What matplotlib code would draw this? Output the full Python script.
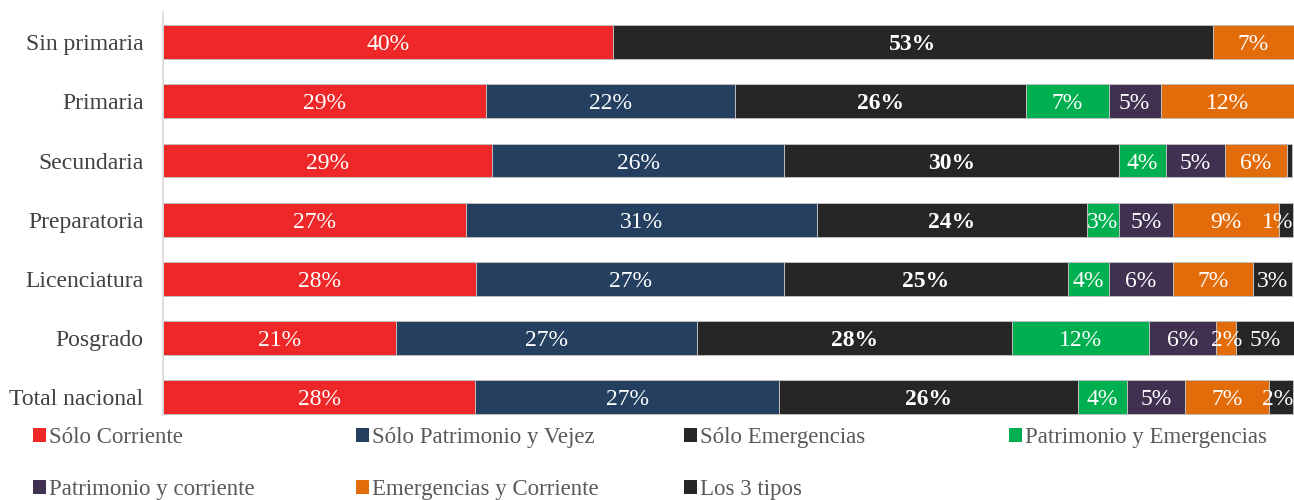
import matplotlib

matplotlib.use("Agg")
import matplotlib.pyplot as plt
import numpy as np
from matplotlib.patches import Patch

plt.rcParams["font.family"] = ["Liberation Serif", "DejaVu Serif"]

categorias = ["Sin primaria", "Primaria", "Secundaria", "Preparatoria",
              "Licenciatura", "Posgrado", "Total nacional"]

solo_corriente = [39.8, 28.6, 29.1, 26.8, 27.7, 20.6, 27.6]
solo_patrimonio = [0.0, 22.0, 25.8, 31.0, 27.2, 26.6, 26.9]
solo_emergencias = [53.0, 25.7, 29.6, 23.9, 25.1, 27.9, 26.4]
patrimonio_emerg = [0.0, 7.3, 4.2, 2.8, 3.6, 12.1, 4.3]
patrimonio_corr = [0.0, 4.6, 5.2, 4.8, 5.7, 5.9, 5.2]
emerg_corriente = [7.2, 11.8, 5.5, 9.4, 7.1, 1.8, 7.4]
los_3_tipos = [0.0, 0.0, 0.4, 1.2, 3.4, 5.1, 2.1]

series = [
    ("Sólo Corriente", solo_corriente, "#EE2828"),
    ("Sólo Patrimonio y Vejez", solo_patrimonio, "#243F60"),
    ("Sólo Emergencias", solo_emergencias, "#262626"),
    ("Patrimonio y Emergencias", patrimonio_emerg, "#00B050"),
    ("Patrimonio y corriente", patrimonio_corr, "#403151"),
    ("Emergencias y Corriente", emerg_corriente, "#E36C0A"),
    ("Los 3 tipos", los_3_tipos, "#262626"),
]

fig = plt.figure(figsize=(12.94, 5.0), dpi=100)
ax = fig.add_axes([163 / 1294, 85 / 500, 1 - 163 / 1294, 403 / 500])

y = np.arange(len(categorias))
left = np.zeros(len(categorias))
for name, vals, color in series:
    vals = np.array(vals)
    ax.barh(y, vals, left=left, height=0.57, color=color,
            edgecolor="#BFBFBF", linewidth=0.7)
    for i, v in enumerate(vals):
        if v < 1:
            continue
        cx = left[i] + v / 2
        ha = "center"
        if cx > 98.6:
            cx, ha = 99.9, "right"
        ax.text(cx, y[i], f"{round(v):.0f}%", ha=ha, va="center_baseline",
                color="white", fontsize=17,
                fontweight="bold" if name == "Sólo Emergencias" else "normal")
    left += vals

ax.set_xlim(0, 100)
ax.set_ylim(6.3, -0.51)
ax.set_yticks(y)
ax.set_yticklabels(categorias, fontsize=17, color="#404040")
ax.tick_params(axis="y", length=0, pad=14)
ax.set_xticks([])
for s in ["top", "right", "bottom"]:
    ax.spines[s].set_visible(False)
ax.spines["left"].set_color("#D9D9D9")
ax.spines["left"].set_linewidth(1.2)

# legend laid out as a 4-column grid
cols = [[0, 4], [1, 5], [2, 6], [3]]
xs = [33, 356, 684, 1009]
for col, x0 in zip(cols, xs):
    handles = [Patch(facecolor=series[k][2], edgecolor="none") for k in col]
    labels = [series[k][0] for k in col]
    fig.legend(handles, labels, loc="upper left",
               bbox_to_anchor=(x0 / 1294, 1 - 427 / 500),
               frameon=False, fontsize=16.5, labelcolor="#595959",
               handlelength=0.55, handleheight=0.55, handletextpad=0.15,
               borderpad=0, borderaxespad=0, labelspacing=1.36)

fig.savefig("out.png", dpi=100)
